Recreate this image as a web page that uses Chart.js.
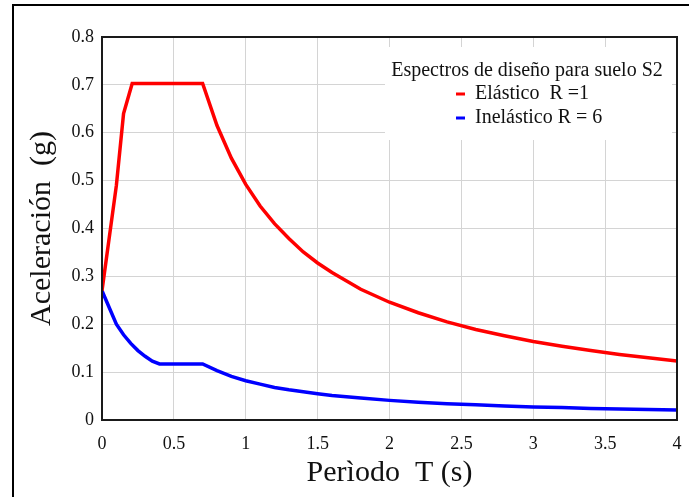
<!DOCTYPE html>
<html>
<head>
<meta charset="utf-8">
<script src="https://cdn.jsdelivr.net/npm/chart.js@4/dist/chart.umd.min.js"></script>
<style>
  html, body { margin: 0; padding: 0; background: #fff; }
  #wrap { width: 689px; height: 497px; position: relative; }
</style>
</head>
<body>
<div id="wrap"><canvas id="myChart" width="689" height="497"></canvas></div>
<script>
// periods (s) and spectral accelerations (g)
const elasticT  = [0, 0.1, 0.15, 0.21, 0.7, 0.8, 0.9, 1.0, 1.1, 1.2, 1.3, 1.4, 1.5, 1.6, 1.8, 2.0, 2.2, 2.4, 2.6, 2.8, 3.0, 3.2, 3.4, 3.6, 3.8, 4.0];
const elasticSa = [0.27, 0.49, 0.64, 0.703, 0.703, 0.615, 0.547, 0.492, 0.447, 0.410, 0.379, 0.351, 0.328, 0.308, 0.273, 0.246, 0.224, 0.205, 0.189, 0.176, 0.164, 0.154, 0.145, 0.137, 0.130, 0.123];

const inelasticT  = [0, 0.05, 0.1, 0.15, 0.2, 0.25, 0.3, 0.35, 0.4, 0.7, 0.8, 0.9, 1.0, 1.1, 1.2, 1.3, 1.4, 1.5, 1.6, 1.8, 2.0, 2.2, 2.4, 2.6, 2.8, 3.0, 3.2, 3.4, 3.6, 3.8, 4.0];
const inelasticSa = [0.27, 0.235, 0.20, 0.178, 0.160, 0.145, 0.133, 0.123, 0.117, 0.117, 0.103, 0.091, 0.082, 0.075, 0.068, 0.063, 0.059, 0.055, 0.051, 0.046, 0.041, 0.037, 0.034, 0.032, 0.029, 0.027, 0.026, 0.024, 0.023, 0.022, 0.021];

const seriesNames = ["Elástico  R =1", "Inelástico R = 6"];
const legendTitle = "Espectros de diseño para suelo S2";

const xTickLabels = ["0", "0.5", "1", "1.5", "2", "2.5", "3", "3.5", "4"];
const yTickLabels = ["0", "0.1", "0.2", "0.3", "0.4", "0.5", "0.6", "0.7", "0.8"];

const serif = "'Liberation Serif', 'Times New Roman', serif";

function toPoints(xs, ys){
  return xs.map((x, i) => ({x: x, y: ys[i]}));
}

// outer frame of the figure + box round the plot
const framePlugin = {
  id: 'frame',
  beforeDraw(chart){
    const ctx = chart.ctx;
    ctx.save();
    ctx.fillStyle = '#fff';
    ctx.fillRect(0, 0, chart.width, chart.height);
    ctx.strokeStyle = '#000';
    ctx.lineWidth = 2;
    ctx.beginPath();
    ctx.moveTo(13, chart.height);
    ctx.lineTo(13, 5);
    ctx.lineTo(chart.width, 5);
    ctx.stroke();
    ctx.restore();
  },
  afterDraw(chart){
    const a = chart.chartArea;
    const ctx = chart.ctx;
    ctx.save();
    ctx.strokeStyle = '#1a1a1a';
    ctx.lineWidth = 2;
    ctx.strokeRect(a.left, a.top, a.right - a.left, a.bottom - a.top);
    ctx.restore();
  }
};

// legend box in the upper right of the plot
const legendPlugin = {
  id: 'boxLegend',
  beforeDatasetsDraw(chart){
    const ctx = chart.ctx;
    const colors = chart.data.datasets.map(d => d.borderColor);
    ctx.save();
    ctx.fillStyle = '#fff';
    ctx.fillRect(385, 47, 287, 93);
    ctx.fillStyle = '#111';
    ctx.font = "20px " + serif;
    ctx.textBaseline = 'middle';
    ctx.textAlign = 'center';
    ctx.fillText(legendTitle, 527, 71);
    ctx.textAlign = 'left';
    seriesNames.forEach((name, i) => {
      const y = 94 + i * 24;
      ctx.fillStyle = colors[i];
      ctx.fillRect(456, y - 1.5, 9, 3);
      ctx.fillStyle = '#111';
      ctx.fillText(name, 475, y);
    });
    ctx.restore();
  }
};

const data = {
  datasets: [
    {
      label: seriesNames[0],
      data: toPoints(elasticT, elasticSa),
      borderColor: 'rgb(255,0,0)',
      borderWidth: 3.5,
      pointRadius: 0,
      tension: 0
    },
    {
      label: seriesNames[1],
      data: toPoints(inelasticT, inelasticSa),
      borderColor: 'rgb(0,0,255)',
      borderWidth: 3.5,
      pointRadius: 0,
      tension: 0
    }
  ]
};

const config = {
  type: 'line',
  data: data,
  plugins: [framePlugin, legendPlugin],
  options: {
    responsive: false,
    animation: false,
    layout: { padding: { top: 37, right: 12, left: 0, bottom: 0 } },
    plugins: {
      legend: { display: false },
      tooltip: { enabled: false }
    },
    scales: {
      x: {
        type: 'linear',
        min: 0,
        max: 4,
        afterFit(scale){
          scale.height = 77;
          scale.paddingLeft = 0;
          scale.paddingRight = 0;
        },
        ticks: {
          stepSize: 0.5,
          padding: 13,
          color: '#111',
          font: { family: serif, size: 18 },
          callback: (v, i) => xTickLabels[i]
        },
        grid: { color: '#d4d4d4', lineWidth: 1, drawTicks: false },
        border: { color: '#1a1a1a', width: 2 },
        title: {
          display: true,
          text: 'Perìodo  T (s)',
          color: '#111',
          font: { family: serif, size: 30 },
          padding: 6
        }
      },
      y: {
        min: 0,
        max: 0.8,
        afterFit(scale){
          scale.width = 102;
          scale.paddingTop = 0;
          scale.paddingBottom = 0;
        },
        ticks: {
          stepSize: 0.1,
          padding: 8,
          color: '#111',
          font: { family: serif, size: 18 },
          callback: (v, i) => yTickLabels[i]
        },
        grid: { color: '#d4d4d4', lineWidth: 1, drawTicks: false },
        border: { color: '#1a1a1a', width: 2 },
        title: {
          display: true,
          text: 'Aceleración  (g)',
          color: '#111',
          font: { family: serif, size: 30 },
          padding: 24
        }
      }
    }
  }
};

const ctx = document.getElementById('myChart').getContext('2d');
const myChart = new Chart(ctx, config);
</script>
</body>
</html>
